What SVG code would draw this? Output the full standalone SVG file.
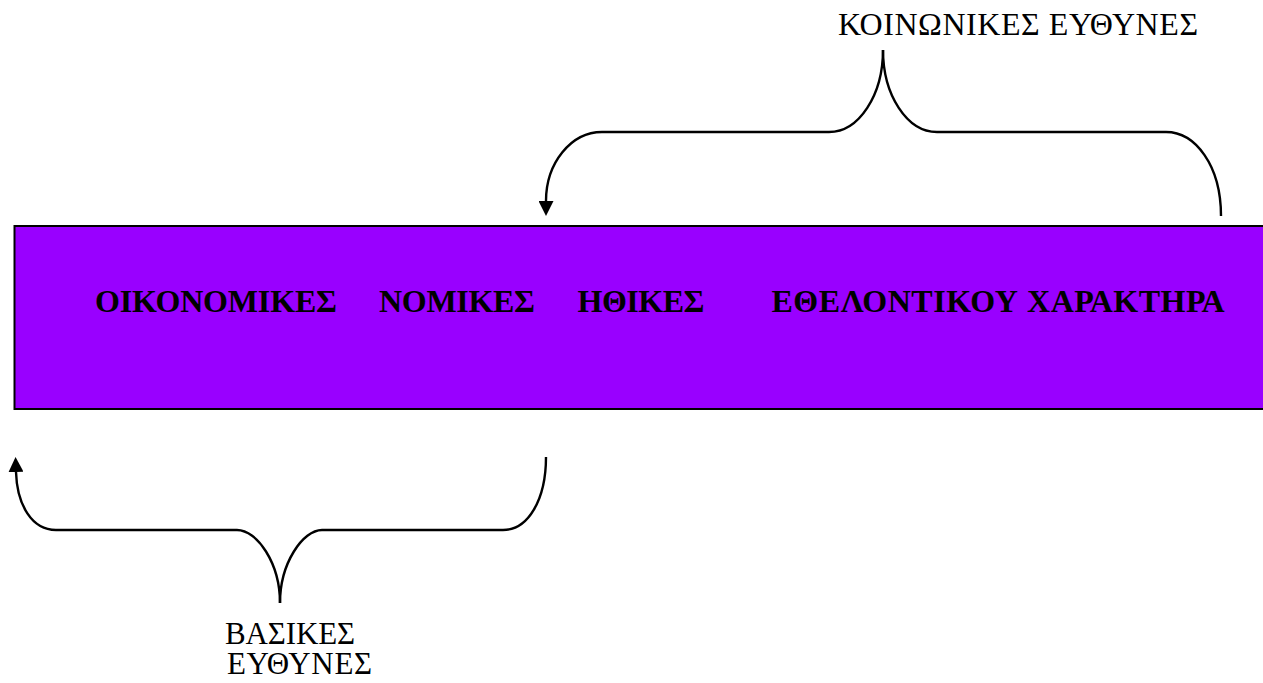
<svg xmlns="http://www.w3.org/2000/svg" width="1263" height="683" viewBox="0 0 1263 683">
  <style>
    .lbl { font-family: "Liberation Serif", "Times New Roman", serif; font-size: 32px; fill: #000; }
    .small { font-size: 31px; }
    .bold { font-weight: bold; }
    .brace { fill: none; stroke: #000; stroke-width: 2.4; }
  </style>
  <defs>
    <marker id="arrow" viewBox="0 0 15 15" refX="0" refY="7.5" markerWidth="15" markerHeight="15" markerUnits="userSpaceOnUse" orient="auto">
      <path d="M0,0 L15,7.5 L0,15 z" fill="#000"/>
    </marker>
  </defs>
  <rect width="1263" height="683" fill="#fff"/>

  <g id="node-responsibilities">
    <rect x="14.5" y="226" width="1262" height="183" fill="#9900FF" stroke="#000" stroke-width="2"/>
    <text class="lbl bold" x="95" y="312" textLength="242" lengthAdjust="spacing">ΟΙΚΟΝΟΜΙΚΕΣ</text>
    <text class="lbl bold" x="379" y="312" textLength="156" lengthAdjust="spacing">ΝΟΜΙΚΕΣ</text>
    <text class="lbl bold" x="577.5" y="312" textLength="127" lengthAdjust="spacing">ΗΘΙΚΕΣ</text>
    <text class="lbl bold" x="771.5" y="312" textLength="453" lengthAdjust="spacing">ΕΘΕΛΟΝΤΙΚΟΥ ΧΑΡΑΚΤΗΡΑ</text>
  </g>

  <g id="node-social">
    <text class="lbl" x="838" y="35" textLength="360" lengthAdjust="spacing">ΚΟΙΝΩΝΙΚΕΣ ΕΥΘΥΝΕΣ</text>
  </g>

  <g id="node-basic">
    <text class="lbl small" x="225" y="644" textLength="130" lengthAdjust="spacing">ΒΑΣΙΚΕΣ</text>
    <text class="lbl small" x="227" y="674" textLength="145" lengthAdjust="spacing">ΕΥΘΥΝΕΣ</text>
  </g>

  <g id="connectors">
    <path class="brace" d="M883,50 C883,95 859,132 829,132 L602,132 C571,132 546,163 546,201" marker-end="url(#arrow)"/>
    <path class="brace" d="M883,50 C883,95 907,132 937,132 L1166,132 C1195,132 1221,165 1221,216"/>
    <path class="brace" d="M280,603 C280,563 257,530 237,530 L56,530 C32,530 17,505 16,472" marker-end="url(#arrow)"/>
    <path class="brace" d="M280,603 C280,563 303,530 322,530 L503,530 C528,530 546,500 546,457"/>
  </g>
</svg>
